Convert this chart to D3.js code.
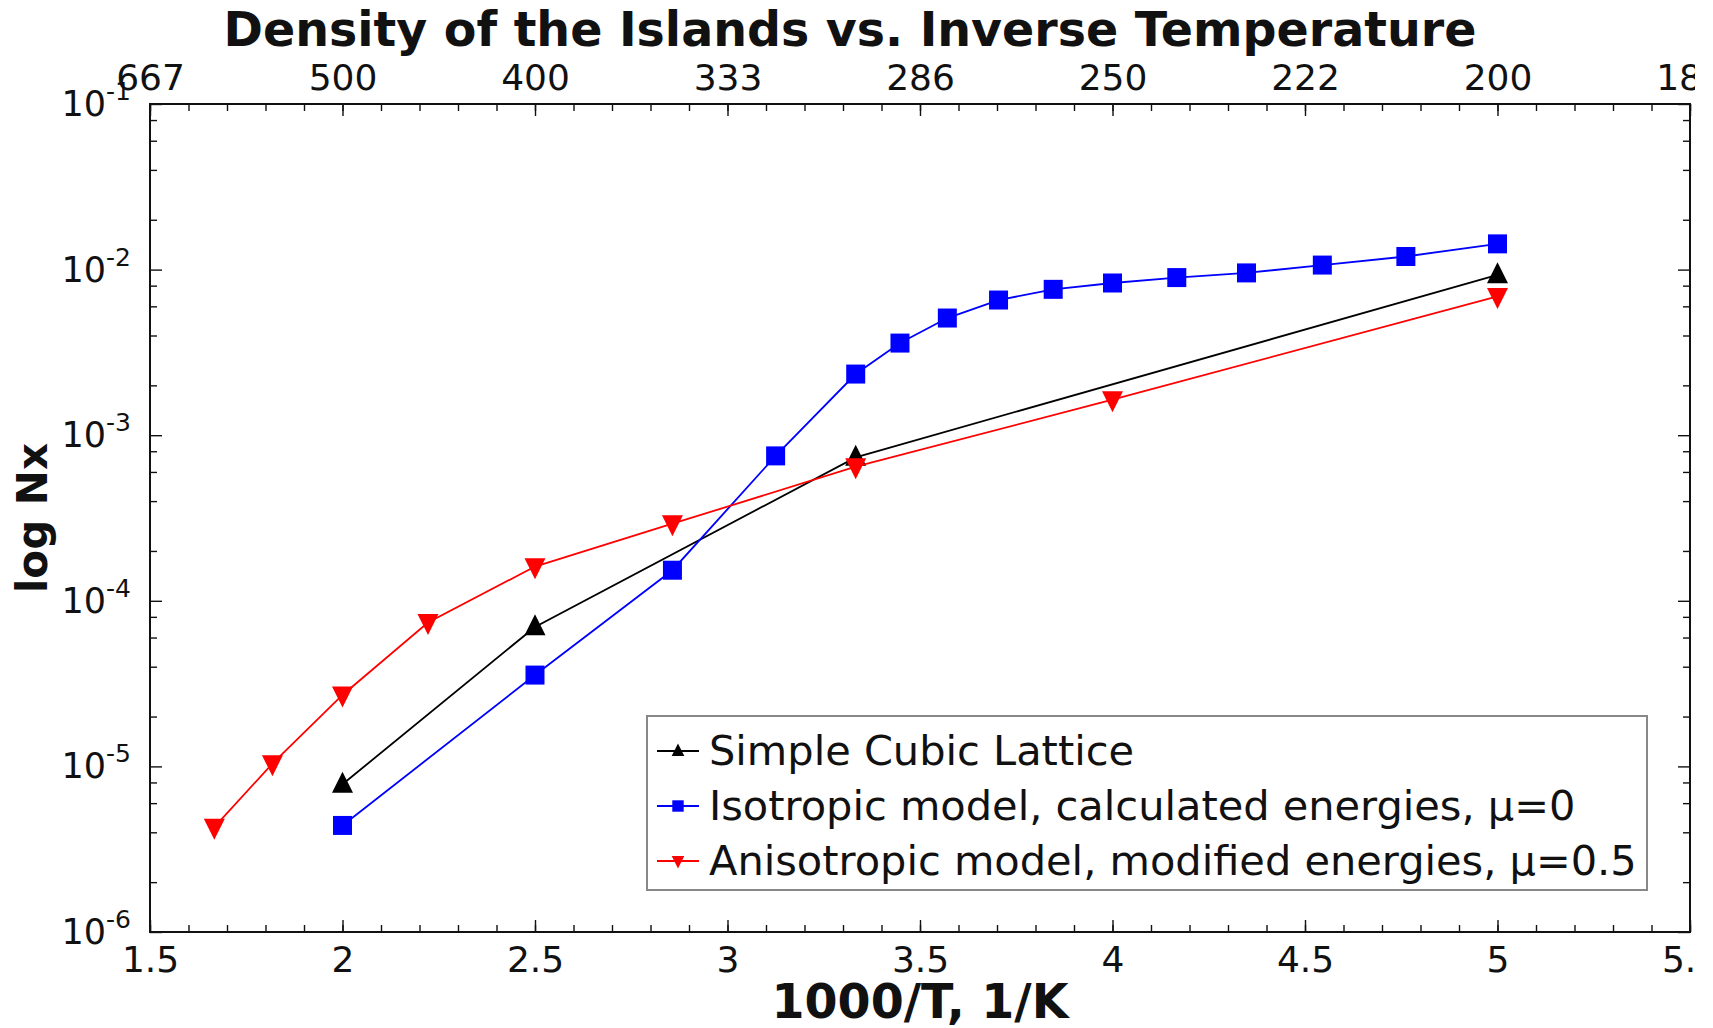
<!DOCTYPE html>
<html>
<head>
<meta charset="utf-8">
<script src="https://cdn.jsdelivr.net/npm/d3@7"></script>
<style>
  body { margin: 0; background: #fff; }
  text { font-family: "DejaVu Sans", Verdana, sans-serif; fill: #111; }
</style>
</head>
<body>
<svg id="chart"></svg>
<script>
// data, x = 1000/T (1/K), y = Nx
const cubicX = [2.0, 2.5, 3.333, 5.0]
const cubicY = [7.8e-6, 6.95e-5, 7.35e-4, 9.3e-3]

const isoX = [2.0, 2.5, 2.857, 3.125, 3.333, 3.448, 3.571, 3.704, 3.846, 4.0, 4.167, 4.348, 4.545, 4.762, 5.0]
const isoY = [4.4e-6, 3.56e-5, 1.53e-4, 7.5e-4, 2.34e-3, 3.6e-3, 5.1e-3, 6.55e-3, 7.6e-3, 8.3e-3, 8.95e-3, 9.55e-3, 1.065e-2, 1.2e-2, 1.43e-2]

const anisoX = [1.667, 1.818, 2.0, 2.222, 2.5, 2.857, 3.333, 4.0, 5.0]
const anisoY = [4.3e-6, 1.04e-5, 2.7e-5, 7.4e-5, 1.61e-4, 2.92e-4, 6.45e-4, 1.64e-3, 6.9e-3]

const seriesNames = ["Simple Cubic Lattice", "Isotropic model, calculated energies, \u03bc=0", "Anisotropic model, modified energies, \u03bc=0.5"]

const xTicks = [1.5, 2, 2.5, 3, 3.5, 4, 4.5, 5, 5.5]
const xTickLabels = ["1.5", "2", "2.5", "3", "3.5", "4", "4.5", "5", "5.5"]
const topTickLabels = ["667", "500", "400", "333", "286", "250", "222", "200", "182"]
const yExps = [-1, -2, -3, -4, -5, -6]

const width = 1713, height = 1028
const margin = {left: 150, top: 104, right: 23, bottom: 96}
const pw = width - margin.left - margin.right
const ph = height - margin.top - margin.bottom

const svg = d3.select("#chart").attr("width", width).attr("height", height)
svg.append("rect").attr("width", width).attr("height", height).attr("fill", "#fff")

const x = d3.scaleLinear().domain([1.5, 5.5]).range([margin.left, margin.left + pw])
const y = d3.scaleLog().domain([1e-6, 1e-1]).range([margin.top + ph, margin.top])

// minor ticks
const xMinor = d3.range(15, 56).map(d => d / 10)
const yMinor = []
yExps.slice(1).forEach(e => [2, 4, 6, 8].forEach(m => yMinor.push(m * Math.pow(10, e))))
const yMajor = yExps.map(e => Math.pow(10, e))

svg.append("clipPath").attr("id", "lblclip")
  .append("rect").attr("x", 0).attr("y", 0).attr("width", 1695).attr("height", height)

const axes = svg.append("g").attr("clip-path", "url(#lblclip)")

function styleAxis(g) {
  g.select(".domain").remove()
  g.selectAll(".tick line").attr("stroke", "#111").attr("stroke-width", 1.4)
  g.selectAll(".tick text").attr("font-size", 36).attr("fill", "#111")
}

// bottom
axes.append("g").attr("transform", `translate(0,${margin.top + ph})`)
  .call(d3.axisBottom(x).tickValues(xMinor).tickSize(-7).tickFormat(""))
  .call(styleAxis)
axes.append("g").attr("transform", `translate(0,${margin.top + ph})`)
  .call(d3.axisBottom(x).tickValues(xTicks).tickSize(-12)
    .tickFormat((d, i) => xTickLabels[i]))
  .call(styleAxis)
  .call(g => g.selectAll(".tick text").attr("y", 40).attr("dy", null))

// top
axes.append("g").attr("transform", `translate(0,${margin.top})`)
  .call(d3.axisTop(x).tickValues(xMinor).tickSize(-7).tickFormat(""))
  .call(styleAxis)
axes.append("g").attr("transform", `translate(0,${margin.top})`)
  .call(d3.axisTop(x).tickValues(xTicks).tickSize(-12)
    .tickFormat((d, i) => topTickLabels[i]))
  .call(styleAxis)
  .call(g => g.selectAll(".tick text").attr("y", -14).attr("dy", null))

// left / right
svg.append("g").attr("transform", `translate(${margin.left},0)`)
  .call(d3.axisLeft(y).tickValues(yMinor).tickSize(-7).tickFormat(""))
  .call(styleAxis)
svg.append("g").attr("transform", `translate(${margin.left},0)`)
  .call(d3.axisLeft(y).tickValues(yMajor).tickSize(-12).tickFormat(""))
  .call(styleAxis)
svg.append("g").attr("transform", `translate(${margin.left + pw},0)`)
  .call(d3.axisRight(y).tickValues(yMinor).tickSize(-7).tickFormat(""))
  .call(styleAxis)
svg.append("g").attr("transform", `translate(${margin.left + pw},0)`)
  .call(d3.axisRight(y).tickValues(yMajor).tickSize(-12).tickFormat(""))
  .call(styleAxis)

// y labels as 10^n
yExps.forEach(e => {
  const t = svg.append("text")
    .attr("x", margin.left - 19)
    .attr("y", y(Math.pow(10, e)) + 12)
    .attr("text-anchor", "end")
    .attr("font-size", 35)
  t.append("tspan").text("10")
  t.append("tspan").attr("dy", -16).attr("font-size", 25).text(e)
})

// frame
svg.append("rect")
  .attr("x", margin.left).attr("y", margin.top)
  .attr("width", pw).attr("height", ph)
  .attr("fill", "none").attr("stroke", "#111").attr("stroke-width", 2)

// marker shapes
const triUp = { draw(ctx, s) { const w = s / 2, h = s; ctx.moveTo(0, -h * 0.6); ctx.lineTo(w, h * 0.4); ctx.lineTo(-w, h * 0.4); ctx.closePath() } }
const triDown = { draw(ctx, s) { const w = s / 2, h = s; ctx.moveTo(0, h * 0.6); ctx.lineTo(w, -h * 0.4); ctx.lineTo(-w, -h * 0.4); ctx.closePath() } }
const square = { draw(ctx, s) { ctx.rect(-s / 2, -s / 2, s, s) } }

const series = [
  {name: seriesNames[0], xs: cubicX, ys: cubicY, color: "#000", shape: triUp, size: 21},
  {name: seriesNames[1], xs: isoX, ys: isoY, color: "#0000ff", shape: square, size: 19},
  {name: seriesNames[2], xs: anisoX, ys: anisoY, color: "#ff0000", shape: triDown, size: 21}
]

const line = d3.line().x(d => x(d[0])).y(d => y(d[1]))

series.forEach(s => {
  const pts = s.xs.map((v, i) => [v, s.ys[i]])
  svg.append("path").datum(pts)
    .attr("d", line).attr("fill", "none")
    .attr("stroke", s.color).attr("stroke-width", 1.8)
  svg.append("g").selectAll("path")
    .data(pts).join("path")
    .attr("transform", d => `translate(${x(d[0])},${y(d[1])})`)
    .attr("d", d3.symbol().type(s.shape).size(s.size))
    .attr("fill", s.color)
})

// legend
const lg = svg.append("g")
lg.append("rect").attr("x", 647).attr("y", 716).attr("width", 1000).attr("height", 174)
  .attr("fill", "#fff").attr("stroke", "#888").attr("stroke-width", 2)
series.forEach((s, i) => {
  const cy = 751 + i * 55
  lg.append("line").attr("x1", 657).attr("x2", 699).attr("y1", cy).attr("y2", cy)
    .attr("stroke", s.color).attr("stroke-width", 2)
  lg.append("path").attr("transform", `translate(678,${cy})`)
    .attr("d", d3.symbol().type(s.shape).size(s.size * 0.6)).attr("fill", s.color)
  lg.append("text").attr("x", 709).attr("y", cy + 14)
    .attr("font-size", 41.5).text(s.name)
})

// titles
svg.append("text").attr("x", 850).attr("y", 46).attr("text-anchor", "middle")
  .attr("font-size", 47.5).attr("font-weight", "bold").text("Density of the Islands vs. Inverse Temperature")
svg.append("text").attr("x", margin.left + pw / 2).attr("y", 1018).attr("text-anchor", "middle")
  .attr("font-size", 47.5).attr("font-weight", "bold").text("1000/T, 1/K")
svg.append("text").attr("transform", `translate(47,${margin.top + ph / 2}) rotate(-90)`)
  .attr("text-anchor", "middle")
  .attr("font-size", 42).attr("font-weight", "bold").text("log Nx")
</script>
</body>
</html>
